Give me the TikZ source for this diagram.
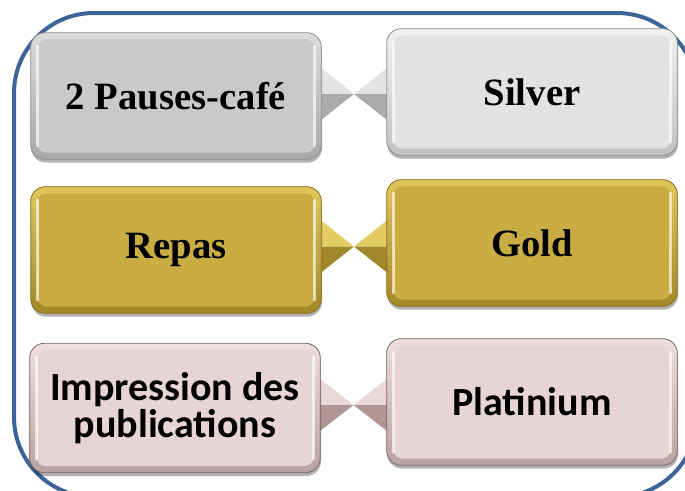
\documentclass[tikz,border=0pt]{standalone}
\usepackage{fontspec}
\setmainfont{Liberation Serif}
\newfontfamily\timesfont{Liberation Serif}
\newfontfamily\calibri{Carlito}
\usetikzlibrary{calc,shadows,backgrounds}

\definecolor{frameblue}{HTML}{3E6397}
\definecolor{silvEdge}{HTML}{8E8E8E}
\definecolor{silvATop}{HTML}{DCDCDC}
\definecolor{silvABot}{HTML}{A9A9A9}
\definecolor{silvAIn}{HTML}{C9C9C9}
\definecolor{silvBTop}{HTML}{F2F2F2}
\definecolor{silvBBot}{HTML}{C2C2C2}
\definecolor{silvBIn}{HTML}{E2E2E2}
\definecolor{goldEdge}{HTML}{86701F}
\definecolor{goldTop}{HTML}{E0C65A}
\definecolor{goldBot}{HTML}{A38829}
\definecolor{goldIn}{HTML}{C9AD43}
\definecolor{pinkEdge}{HTML}{7E6666}
\definecolor{pinkTop}{HTML}{EFDFDF}
\definecolor{pinkBot}{HTML}{B9A2A2}
\definecolor{pinkIn}{HTML}{E7D4D4}
\definecolor{silvLight}{HTML}{E4E4E4}
\definecolor{silvDark}{HTML}{ABABAB}
\definecolor{goldLight}{HTML}{E3CC62}
\definecolor{goldDark}{HTML}{A08729}
\definecolor{pinkLight}{HTML}{EAD7D7}
\definecolor{pinkDark}{HTML}{B19696}

\tikzset{
  plate/.style n args={4}{rectangle, rounded corners=11pt,
    minimum width=218pt, minimum height=95pt, inner sep=0pt,
    draw=#1, line width=.6pt, top color=#2, bottom color=#3,
    drop shadow={shadow xshift=.5pt, shadow yshift=-2.5pt, opacity=.3, fill=black},
    path picture={
      \fill[#4, rounded corners=7pt]
        ([shift={(5pt,-5pt)}]path picture bounding box.north west) rectangle
        ([shift={(-5pt,5pt)}]path picture bounding box.south east);
      \draw[white, opacity=.65, line width=2pt, line cap=round]
        ([shift={(5pt,-10pt)}]path picture bounding box.north west) --
        ([shift={(5pt,10pt)}]path picture bounding box.south west)
        ([shift={(-5pt,-10pt)}]path picture bounding box.north east) --
        ([shift={(-5pt,10pt)}]path picture bounding box.south east);
    }},
  bigserif/.style={font=\timesfont\bfseries\fontsize{29}{32}\selectfont},
  bigsans/.style={font=\calibri\bfseries\fontsize{30}{28}\selectfont, align=center},
}

\begin{document}
\begin{tikzpicture}[x=0.75pt,y=-0.75pt]
  \useasboundingbox (0,0) rectangle (685,490);
  \clip (0,0) rectangle (685,490);

  % outer frame
  \draw[frameblue, line width=3pt, rounded corners=60pt] (14,13) rectangle (697,497);

  % left column
  \node[plate={silvEdge}{silvATop}{silvABot}{silvAIn}, bigserif] (pause) at (176,96) {2 Pauses-café};
  \node[plate={goldEdge}{goldTop}{goldBot}{goldIn}, bigserif] (repas) at (176,250) {Repas};
  \node[plate={pinkEdge}{pinkTop}{pinkBot}{pinkIn}, bigsans, minimum height=97pt] (impr) at (175,408) {Impression des\\publications};

  % right column
  \node[plate={silvEdge}{silvBTop}{silvBBot}{silvBIn}, bigserif] (silver) at (532,92) {Silver};
  \node[plate={goldEdge}{goldTop}{goldBot}{goldIn}, bigserif] (gold) at (532,243) {Gold};
  \node[plate={pinkEdge}{pinkTop}{pinkBot}{pinkIn}, bigsans] (plat) at (532,402) {Platinium};

  % bow ties
  \begin{scope}[on background layer]
    \foreach \l/\r/\m/\lt/\dk in {pause/silver/m1/silvLight/silvDark,
        repas/gold/m2/goldLight/goldDark, impr/plat/m3/pinkLight/pinkDark}{
      \coordinate (\m) at ($(\l.east)!.5!(\r.west)$);
      \fill[\lt] ($(\l.east |- \m)+(-2,-27)$) -- (\m) -- ($(\l.east |- \m)+(-2,0)$) -- cycle;
      \fill[\dk] ($(\l.east |- \m)+(-2,0)$) -- (\m) -- ($(\l.east |- \m)+(-2,27)$) -- cycle;
      \fill[\lt] ($(\r.west |- \m)+(2,-27)$) -- (\m) -- ($(\r.west |- \m)+(2,0)$) -- cycle;
      \fill[\dk] ($(\r.west |- \m)+(2,0)$) -- (\m) -- ($(\r.west |- \m)+(2,27)$) -- cycle;
    }
  \end{scope}
\end{tikzpicture}
\end{document}
